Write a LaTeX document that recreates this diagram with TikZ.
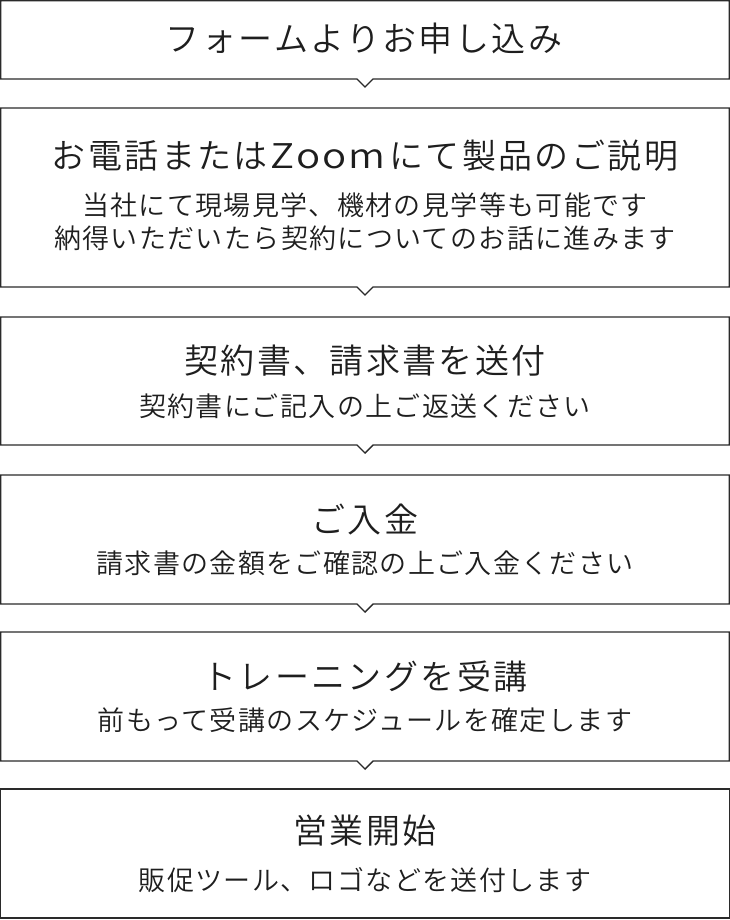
\documentclass[tikz,border=0pt]{standalone}
\usepackage{fontspec}
\setmainfont{Noto Sans CJK JP}[UprightFont=* DemiLight]
\newfontfamily\ttlfont{Noto Sans CJK JP}[UprightFont=* DemiLight,LetterSpace=7]
\newfontfamily\subfont{Noto Sans CJK JP}[UprightFont=* DemiLight,LetterSpace=5]
\definecolor{edge}{HTML}{2A2A2A}
\definecolor{ink}{HTML}{1E1E1E}
\tikzset{
  flowbox/.style={draw=edge,line width=1.4bp,fill=white},
  ttl/.style={text=ink,font=\ttlfont\fontsize{34bp}{38bp}\selectfont,inner sep=0pt,anchor=center},
  sub/.style={text=ink,font=\subfont\fontsize{27bp}{30bp}\selectfont,inner sep=0pt,anchor=center}
}
\newcommand{\notchbox}[2]{%
  \path[flowbox] (0.7,#1) -- (729.3,#1) -- (729.3,#2) -- (373,#2) -- (365,#2+8) -- (357,#2) -- (0.7,#2) -- cycle;}
\newcommand{\plainbox}[2]{%
  \path[flowbox] (0.7,#1) rectangle (729.3,#2);}
\begin{document}
\begin{tikzpicture}[x=1bp,y=-1bp]
\useasboundingbox (0,0) rectangle (730,920);
\fill[white] (0,0) rectangle (730,920);
\notchbox{0.7}{79}
\notchbox{108}{287}
\notchbox{317}{445}
\notchbox{475}{604}
\notchbox{632}{761}
\plainbox{789}{918}
\node[ttl] (t1) at (365,39) {\kern-2bp フォームよりお申し込み};
\node[ttl] (t2) at (365,156) {お電話または\kern3bp\scalebox{1.18}[1]{Z\kern1.5bp o\kern1.5bp o\kern1.5bp m}\kern4bp にて製品のご説明};
\node[sub] (s2a) at (365,205) {当社にて現場見学、機材の見学等も可能です};
\node[sub] (s2b) at (365,238) {納得いただいたら契約についてのお話に進みます};
\node[ttl] (t3) at (365,361) {契約書、請求書を送付};
\node[sub] (s3) at (365,406) {契約書にご記入の上ご返送ください};
\node[ttl] (t4) at (365,520) {ご入金};
\node[sub] (s4) at (365,563) {請求書の金額をご確認の上ご入金ください};
\node[ttl] (t5) at (365,677) {トレーニングを受講};
\node[sub] (s5) at (365,720) {前もって受講のスケジュールを確定します};
\node[ttl] (t6) at (365,831) {営業開始};
\node[sub] (s6) at (365,880) {販促ツール、ロゴなどを送付します};
\end{tikzpicture}
\end{document}
